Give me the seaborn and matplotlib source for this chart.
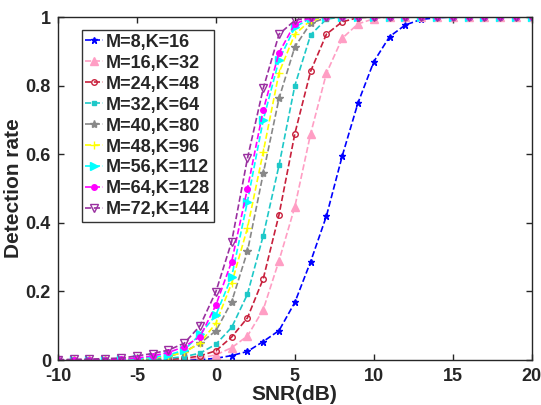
import matplotlib
matplotlib.use('Agg')
import matplotlib.pyplot as plt
import pandas as pd
import seaborn as sns

sns.set_style('ticks')
plt.rcParams['font.family'] = ['Liberation Sans', 'DejaVu Sans']
plt.rcParams['font.weight'] = 'bold'
plt.rcParams['axes.unicode_minus'] = False

# SNR axis (dB)
snr = [-10, -9, -8, -7, -6, -5, -4, -3, -2, -1, 0, 1, 2, 3, 4, 5,
       6, 7, 8, 9, 10, 11, 12, 13, 14, 15, 16, 17, 18, 19, 20]

labels = ['M=8,K=16', 'M=16,K=32', 'M=24,K=48', 'M=32,K=64', 'M=40,K=80',
          'M=48,K=96', 'M=56,K=112', 'M=64,K=128', 'M=72,K=144']

# detection rate
rate_m8 = [0, 0, 0, 0, 0, 0, 0, 0, 0, 0.001, 0.005, 0.013, 0.025, 0.054, 0.086, 0.168,
           0.287, 0.42, 0.595, 0.75, 0.87, 0.943, 0.977, 0.993, 0.998, 1, 1, 1, 1, 1, 1]
rate_m16 = [0, 0, 0, 0, 0, 0, 0, 0, 0.003, 0.006, 0.015, 0.036, 0.07, 0.147, 0.29, 0.447,
            0.66, 0.836, 0.938, 0.98, 0.995, 1, 1, 1, 1, 1, 1, 1, 1, 1, 1]
rate_m24 = [0, 0, 0, 0, 0, 0, 0, 0.002, 0.005, 0.012, 0.027, 0.067, 0.123, 0.237, 0.424, 0.66,
            0.842, 0.95, 0.986, 0.998, 1, 1, 1, 1, 1, 1, 1, 1, 1, 1, 1]
rate_m32 = [0, 0, 0, 0, 0, 0, 0.002, 0.005, 0.01, 0.02, 0.046, 0.095, 0.192, 0.363, 0.568, 0.80,
            0.948, 0.994, 1, 1, 1, 1, 1, 1, 1, 1, 1, 1, 1, 1, 1]
rate_m40 = [0, 0, 0, 0, 0.001, 0.002, 0.004, 0.01, 0.024, 0.049, 0.085, 0.17, 0.317, 0.544, 0.763, 0.913,
            0.982, 0.998, 1, 1, 1, 1, 1, 1, 1, 1, 1, 1, 1, 1, 1]
rate_m48 = [0, 0, 0, 0, 0.001, 0.003, 0.006, 0.012, 0.022, 0.05, 0.107, 0.224, 0.385, 0.607, 0.838, 0.95,
            0.99, 1, 1, 1, 1, 1, 1, 1, 1, 1, 1, 1, 1, 1, 1]
rate_m56 = [0, 0, 0, 0, 0.002, 0.004, 0.008, 0.015, 0.029, 0.075, 0.131, 0.243, 0.462, 0.70, 0.875, 0.97,
            0.997, 1, 1, 1, 1, 1, 1, 1, 1, 1, 1, 1, 1, 1, 1]
rate_m64 = [0, 0, 0, 0.001, 0.003, 0.006, 0.012, 0.022, 0.039, 0.068, 0.16, 0.287, 0.50, 0.729, 0.896, 0.98,
            0.998, 1, 1, 1, 1, 1, 1, 1, 1, 1, 1, 1, 1, 1, 1]
rate_m72 = [0.001, 0.002, 0.003, 0.004, 0.006, 0.012, 0.019, 0.029, 0.049, 0.1, 0.199, 0.345, 0.588, 0.792, 0.95, 0.99,
            1, 1, 1, 1, 1, 1, 1, 1, 1, 1, 1, 1, 1, 1, 1]

rates = [rate_m8, rate_m16, rate_m24, rate_m32, rate_m40,
         rate_m48, rate_m56, rate_m64, rate_m72]
colors = ['#0000FF', '#FF9EC4', '#C8203C', '#1EC8C8', '#888888',
          '#FFFF00', '#00FFFF', '#FF00FF', '#9A30A0']
markers = ['*', '^', 'o', 's', '*', '+', '>', 'o', 'v']
msizes = [5, 5.5, 4, 3, 6, 6, 5.5, 4, 5.5]
fills = [True, True, False, True, True, True, True, True, False]

fig, ax = plt.subplots(figsize=(5.41, 4.05), dpi=100)
fig.subplots_adjust(left=0.107, right=0.983, top=0.958, bottom=0.111)

for lab, r, c, m, ms, f in zip(labels, rates, colors, markers, msizes, fills):
    d = pd.DataFrame({'snr': snr, 'rate': r})
    sns.lineplot(data=d, x='snr', y='rate', ax=ax, color=c, linestyle='--',
                 dashes=(3, 2), linewidth=1.2, marker=m, markersize=ms,
                 markeredgecolor=c, markerfacecolor=c if f else 'none',
                 markeredgewidth=1.0, label=lab)

ax.set_xlim(-10, 20)
ax.set_ylim(0, 1)
ax.set_xticks([-10, -5, 0, 5, 10, 15, 20])
ax.set_yticks([0, 0.2, 0.4, 0.6, 0.8, 1])
ax.set_yticklabels(['0', '0.2', '0.4', '0.6', '0.8', '1'])
ax.tick_params(direction='in', top=True, right=True, length=4, width=1,
               labelsize=13)
ax.tick_params(axis='x', pad=6)
ax.tick_params(axis='y', pad=5)
for t in ax.get_xticklabels() + ax.get_yticklabels():
    t.set_fontweight('bold')
for s in ax.spines.values():
    s.set_linewidth(1.0)
    s.set_color('#262626')

ax.set_xlabel('SNR(dB)', fontsize=15, fontweight='bold', labelpad=0)
ax.set_ylabel('Detection rate', fontsize=15, fontweight='bold', labelpad=2)

leg = ax.legend(loc='upper left', bbox_to_anchor=(0.05, 0.962),
                prop={'weight': 'bold', 'size': 13}, frameon=True, fancybox=False,
                edgecolor='black', handlelength=1.0, handletextpad=0.15,
                labelspacing=0.22, borderpad=0.2, borderaxespad=0)
leg.get_frame().set_linewidth(1.0)

fig.savefig('out.png', dpi=100)
